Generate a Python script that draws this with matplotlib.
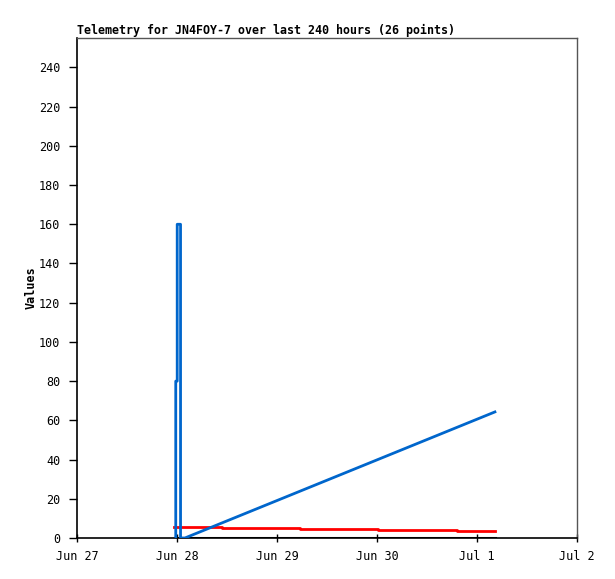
import matplotlib.pyplot as plt
import matplotlib.dates as mdates
from datetime import datetime, timedelta

start = datetime(2024, 6, 27)

# hours after Jun 27 00:00
blue_hours = [23.7, 23.7, 24.05, 24.05, 24.85, 24.85, 25.9, 100.3]
blue_vals = [0, 80, 80, 160, 160, 0, 0, 64.3]

red_hours = [23.3, 34.8, 53.5, 72.2, 91.2, 100.3]
red_vals = [5.8, 5.2, 4.7, 4.2, 3.7, 3.7]

black_hours = [23.6, 100.3]
black_vals = [0, 0]

x_ticks = ["Jun 27", "Jun 28", "Jun 29", "Jun 30", "Jul 1", "Jul 2"]


def to_dates(hours):
    return [start + timedelta(hours=h) for h in hours]


def main():
    plt.rcParams['font.family'] = ['DejaVu Sans Mono']
    fig = plt.figure(figsize=(6.15, 5.79), dpi=100)
    ax = fig.add_axes([77 / 615, 41 / 579, 500 / 615, 500 / 579])

    ax.plot(to_dates(black_hours), black_vals, color="black", lw=2.2, zorder=2)
    ax.plot(to_dates(red_hours), red_vals, color="#ff0000", lw=2,
            drawstyle="steps-post", zorder=3)
    ax.plot(to_dates(blue_hours), blue_vals, color="#0066cc", lw=2, zorder=4)

    ax.set_xlim(start, start + timedelta(days=5))
    ax.set_ylim(0, 255)
    tick_dates = [start + timedelta(days=i) for i in range(len(x_ticks))]
    ax.set_xticks(tick_dates)
    ax.set_xticklabels(x_ticks)
    ax.set_yticks(range(0, 241, 20))

    ax.tick_params(axis="both", labelsize=8.5, length=6, width=1, color="black")
    ax.tick_params(axis="x", direction="inout", pad=6)
    ax.tick_params(axis="y", direction="out", pad=6)

    for s in ["left", "bottom"]:
        ax.spines[s].set_color("black")
        ax.spines[s].set_linewidth(1.2)
    for s in ["top", "right"]:
        ax.spines[s].set_color("#555555")
        ax.spines[s].set_linewidth(1)

    ax.set_title("Telemetry for JN4FOY-7 over last 240 hours (26 points)",
                 loc="left", fontsize=8.4, fontweight="bold", pad=3)
    ax.set_ylabel("Values", fontsize=8.5, fontweight="bold", labelpad=1)

    fig.savefig("out.png", dpi=100)


if __name__ == "__main__":
    main()
